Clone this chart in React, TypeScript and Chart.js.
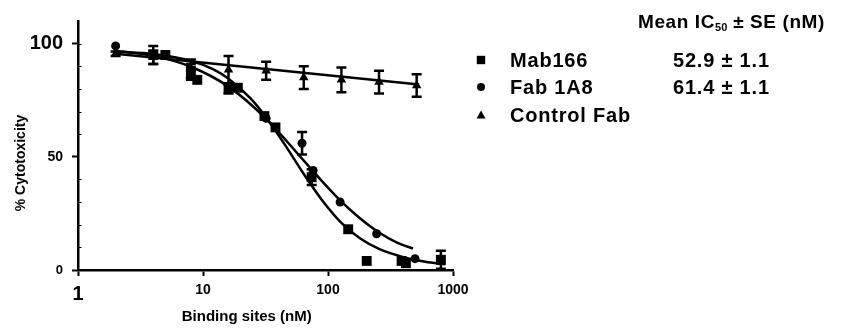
import React, { useEffect, useRef } from 'react';
import { Chart, registerables } from 'chart.js';

Chart.register(...registerables);

const FONT = '"Liberation Sans", Arial, Helvetica, sans-serif';

// Axis ticks
const xTickValues = [1, 10, 100, 1000];
const yTickValues = [0, 50, 100];
const yMinorValues = [10, 20, 30, 40, 60, 70, 80, 90, 100];

// Mab166 (squares)
const mabX = [4, 5, 8, 9, 16, 19, 31, 38, 74, 145, 204, 388, 420, 800];
const mabY = [95, 95, 88, 84, 80, 80.5, 68, 63, 41, 18, 4, 4, 3, 4.5];
const mabErr = [4, 0, 3, 0, 2, 0, 0, 0, 3.5, 0, 0, 0, 0, 4];

// Fab 1A8 (circles)
const fabX = [2, 4, 8, 16, 32, 62, 76, 125, 245, 497];
const fabY = [99, 95, 86, 81, 67, 56, 44, 30, 16, 5];
const fabErr = [0, 0, 2, 0, 0, 5, 0, 0, 0, 0];

// Control Fab (triangles)
const ctrlX = [2, 4, 8, 16, 32, 64, 128, 256, 512];
const ctrlY = [95.5, 94, 89, 88.5, 88, 85, 84, 83, 81.5];
const ctrlErr = [1, 3, 4, 6, 4, 5, 5.5, 5, 5];

// Fitted curves
const mabFitX = [2, 4, 8, 12, 16, 24, 32, 45, 64, 90, 128, 180, 256, 400, 600, 870];
const mabFitY = [96.5, 95.4, 92.4, 88.7, 84.5, 75.8, 67.4, 55.5, 42.4, 30.7, 20.8, 14, 9.3, 5.7, 3.6, 2.5];
const fabFitX = [2, 4, 8, 16, 32, 64, 90, 128, 180, 256, 360, 478];
const fabFitY = [96.9, 94.6, 89.8, 81.0, 66.8, 48.3, 39.1, 30.2, 22.9, 16.6, 12.0, 9.5];
const ctrlFitX = [2, 535];
const ctrlFitY = [95.5, 82];

// Legend
const legendNames = ['Mab166', 'Fab 1A8', 'Control Fab'];
const legendValues = ['52.9 \u00b1 1.1', '61.4 \u00b1 1.1', ''];
const legendMarkers = ['rect', 'circle', 'triangle'];
const headerMain = 'Mean IC';
const headerSub = '50';
const headerRest = ' \u00b1 SE (nM)';
const xTitle = 'Binding sites (nM)';
const yTitle = '% Cytotoxicity';

const pts = (xs: number[], ys: number[]) => xs.map((x, i) => ({ x, y: ys[i] }));

const errorBarsPlugin = {
  id: 'errorBars',
  afterDatasetsDraw(chart: any) {
    const { ctx, scales } = chart;
    const x = scales.x, y = scales.y;
    ctx.save();
    ctx.strokeStyle = '#000';
    ctx.lineWidth = 2.5;
    chart.data.datasets.forEach((ds: any) => {
      const errs = ds.errors;
      if (!errs) return;
      ds.data.forEach((p: any, i: number) => {
        const e = errs[i];
        if (!e) return;
        const px = x.getPixelForValue(p.x);
        const top = y.getPixelForValue(p.y + e);
        const bot = y.getPixelForValue(p.y - e);
        ctx.beginPath();
        ctx.moveTo(px, top);
        ctx.lineTo(px, bot);
        ctx.moveTo(px - 5, top);
        ctx.lineTo(px + 5, top);
        ctx.moveTo(px - 5, bot);
        ctx.lineTo(px + 5, bot);
        ctx.stroke();
      });
    });
    ctx.restore();
  },
};

const minorTicksPlugin = {
  id: 'minorTicks',
  afterDraw(chart: any) {
    const { ctx, scales, chartArea } = chart;
    const y = scales.y;
    ctx.save();
    ctx.strokeStyle = '#000';
    ctx.lineWidth = 1;
    yMinorValues.forEach((v) => {
      const py = Math.round(y.getPixelForValue(v)) + 0.5;
      ctx.beginPath();
      ctx.moveTo(chartArea.left, py);
      ctx.lineTo(chartArea.left + 3.5, py);
      ctx.stroke();
    });
    ctx.restore();
  },
};

function drawMarker(ctx: CanvasRenderingContext2D, kind: string, cx: number, cy: number) {
  ctx.beginPath();
  if (kind === 'rect') {
    ctx.rect(cx - 4.2, cy - 4.2, 8.4, 8.4);
  } else if (kind === 'circle') {
    ctx.arc(cx, cy, 4, 0, Math.PI * 2);
  } else {
    ctx.moveTo(cx, cy - 4.5);
    ctx.lineTo(cx + 4.5, cy + 3.5);
    ctx.lineTo(cx - 4.5, cy + 3.5);
    ctx.closePath();
  }
  ctx.fill();
}

const legendPlugin = {
  id: 'sideLegend',
  afterDraw(chart: any) {
    const { ctx } = chart;
    ctx.save();
    ctx.fillStyle = '#000';
    ctx.textBaseline = 'alphabetic';
    ctx.textAlign = 'left';
    // Header
    const hx = 638;
    const hy = 28;
    (ctx as any).letterSpacing = '0.6px';
    ctx.font = `bold 19px ${FONT}`;
    ctx.fillText(headerMain, hx, hy);
    let w = ctx.measureText(headerMain).width;
    ctx.font = `bold 11px ${FONT}`;
    (ctx as any).letterSpacing = '0px';
    ctx.fillText(headerSub, hx + w, hy + 3);
    w += ctx.measureText(headerSub).width;
    (ctx as any).letterSpacing = '0.6px';
    ctx.font = `bold 19px ${FONT}`;
    ctx.fillText(headerRest, hx + w, hy);
    // Rows
    const rowY = [60, 87, 115];
    ctx.textBaseline = 'middle';
    (ctx as any).letterSpacing = '0.8px';
    legendNames.forEach((name, i) => {
      drawMarker(ctx, legendMarkers[i], 481, rowY[i]);
      ctx.font = `bold 20px ${FONT}`;
      ctx.fillText(name, 510, rowY[i] + 1);
      if (legendValues[i]) ctx.fillText(legendValues[i], 673, rowY[i] + 1);
    });
    ctx.restore();
  },
};

export default function App() {
  const canvasRef = useRef<HTMLCanvasElement | null>(null);

  useEffect(() => {
    if (!canvasRef.current) return;
    const pointDs = (data: any, style: string, radius: number, errors: number[]) => ({
      data,
      errors,
      showLine: false,
      pointStyle: style,
      pointRadius: radius,
      pointBackgroundColor: '#000',
      pointBorderColor: '#000',
      pointBorderWidth: 0,
      backgroundColor: '#000',
      borderColor: '#000',
    });
    const lineDs = (data: any) => ({
      data,
      showLine: true,
      pointRadius: 0,
      borderColor: '#000',
      borderWidth: 2.5,
      cubicInterpolationMode: 'monotone',
      fill: false,
    });
    const chart = new Chart(canvasRef.current, {
      type: 'scatter',
      data: {
        datasets: [
          lineDs(pts(ctrlFitX, ctrlFitY)),
          lineDs(pts(mabFitX, mabFitY)),
          lineDs(pts(fabFitX, fabFitY)),
          pointDs(pts(ctrlX, ctrlY), 'triangle', 5.5, ctrlErr),
          pointDs(pts(fabX, fabY), 'circle', 4.5, fabErr),
          pointDs(pts(mabX, mabY), 'rect', 7, mabErr),
        ] as any,
      },
      options: {
        animation: false,
        responsive: true,
        maintainAspectRatio: false,
        layout: { padding: { left: 0, right: 393, top: 20, bottom: 0 } },
        plugins: { legend: { display: false }, tooltip: { enabled: false } },
        scales: {
          x: {
            type: 'logarithmic',
            min: 1,
            max: 1000,
            afterBuildTicks: (s: any) => {
              s.ticks = xTickValues.map((v) => ({ value: v }));
            },
            afterFit: (s: any) => {
              s.height = 58;
            },
            ticks: {
              autoSkip: false,
              maxRotation: 0,
              padding: 6,
              color: '#000',
              callback: (v: any) => String(v),
              font: (c: any) => ({
                family: FONT,
                weight: 'bold',
                size: c.tick && c.tick.value === 1 ? 20 : 14,
              }),
            },
            grid: {
              drawOnChartArea: false,
              drawTicks: true,
              tickLength: 6,
              tickWidth: 2,
              tickColor: '#000',
            },
            border: { display: true, color: '#000', width: 2.5 },
            title: {
              display: true,
              text: xTitle + ' '.repeat(9),
              color: '#000',
              font: { family: FONT, size: 15, weight: 'bold' },
              padding: { top: 0, bottom: 2 },
            },
          },
          y: {
            type: 'linear',
            min: 0,
            max: 110,
            afterBuildTicks: (s: any) => {
              s.ticks = yTickValues.map((v) => ({ value: v }));
            },
            afterFit: (s: any) => {
              s.width = 78;
            },
            ticks: {
              padding: 9,
              color: '#000',
              font: (c: any) => ({
                family: FONT,
                weight: 'bold',
                size: c.tick && c.tick.value === 100 ? 20 : c.tick && c.tick.value === 50 ? 14 : 13,
              }),
            },
            grid: {
              drawOnChartArea: false,
              drawTicks: true,
              tickLength: 6,
              tickWidth: 2,
              tickColor: '#000',
            },
            border: { display: true, color: '#000', width: 2.5 },
            title: {
              display: true,
              text: yTitle + ' '.repeat(9),
              color: '#000',
              font: { family: FONT, size: 14, weight: 'bold' },
              padding: { top: 13, bottom: 0 },
            },
          },
        },
      } as any,
      plugins: [errorBarsPlugin, minorTicksPlugin, legendPlugin],
    });
    return () => chart.destroy();
  }, []);

  return (
    <div style={{ position: 'absolute', left: 0, top: 0, width: 846, height: 328, background: '#fff' }}>
      <canvas ref={canvasRef} />
    </div>
  );
}
